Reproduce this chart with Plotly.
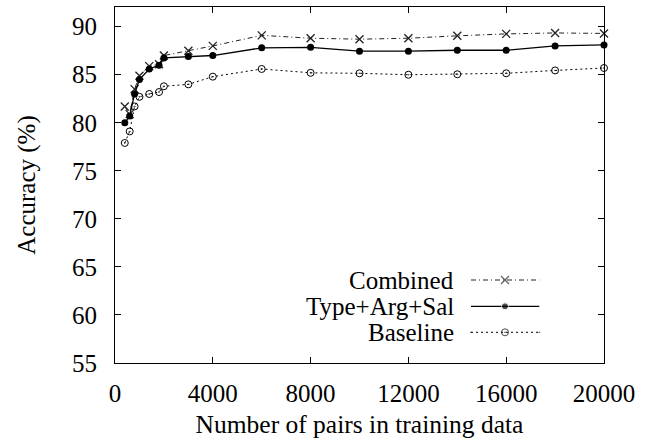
import plotly.graph_objects as go

# ---- data ----
pairs = [400, 600, 800, 1000, 1400, 1800, 2000, 3000, 4000, 6000, 8000,
         10000, 12000, 14000, 16000, 18000, 20000]
combined = [81.7, 80.9, 83.5, 84.9, 85.9, 86.1, 87.0, 87.5, 88.0, 89.1, 88.8,
            88.7, 88.8, 89.05, 89.25, 89.35, 89.3]
type_arg_sal = [80.0, 80.7, 83.0, 84.5, 85.6, 86.0, 86.75, 86.9, 87.0, 87.8, 87.85,
                87.45, 87.45, 87.55, 87.55, 88.0, 88.1]
baseline = [77.9, 79.1, 81.7, 82.7, 83.0, 83.2, 83.8, 84.0, 84.8, 85.6, 85.2,
            85.15, 85.0, 85.05, 85.15, 85.45, 85.7]

series_names = ["Combined", "Type+Arg+Sal", "Baseline"]
x_ticks = [0, 4000, 8000, 12000, 16000, 20000]
y_ticks = [55, 60, 65, 70, 75, 80, 85, 90]

FONT = "Liberation Serif"
FS = 25

W, H = 645, 446
L, R, T, B = 115, 41, 7, 83
pw, ph = W - L - R, H - T - B

def px_x(p):
    return (p - L) / pw

def px_y(p):
    return (H - B - p) / ph

styles = [
    dict(line=dict(color="#222", width=1, dash="5px,3px,1px,3px"),
         marker=dict(symbol="x-thin-open", size=8, line=dict(color="#222", width=1.3))),
    dict(line=dict(color="black", width=1.3, dash="solid"),
         marker=dict(symbol="circle", size=7, color="black")),
    dict(line=dict(color="black", width=1, dash="2px,3px"),
         marker=dict(symbol="circle-open-dot", size=7, color="black", line=dict(color="black", width=1))),
]

fig = go.Figure()
for name, vals, st in zip(series_names, [combined, type_arg_sal, baseline], styles):
    fig.add_trace(go.Scatter(x=pairs, y=vals, mode="lines+markers", name=name,
                             line=st["line"], marker=st["marker"], cliponaxis=False,
                             showlegend=False))

# manual legend (text on left, sample on right)
rows = [280, 306.3, 332.3]
for name, st, ry in zip(series_names, styles, rows):
    yy = px_y(ry)
    m = dict(st["marker"])
    m["size"] = [0, m["size"], 0]
    fig.add_trace(go.Scatter(x=[px_x(471), px_x(505), px_x(539.3)], y=[yy, yy, yy],
                             mode="lines+markers", line=st["line"], marker=m,
                             xaxis="x2", yaxis="y2", showlegend=False, hoverinfo="skip",
                             cliponaxis=False))
    fig.add_annotation(x=px_x(456), y=yy, xref="paper", yref="paper", text=name,
                       showarrow=False, xanchor="right", yanchor="middle",
                       font=dict(family=FONT, size=FS, color="black"))

axis_common = dict(showgrid=False, zeroline=False, showline=True, linecolor="black",
                   linewidth=1, mirror="ticks", ticks="inside", ticklen=6,
                   tickcolor="black", tickwidth=1,
                   tickfont=dict(family=FONT, size=FS, color="black"))

fig.update_layout(
    width=W, height=H,
    margin=dict(l=L, r=R, t=T, b=B),
    paper_bgcolor="white", plot_bgcolor="white",
    font=dict(family=FONT, size=FS, color="black"),
    xaxis=dict(range=[0, 20000], tickvals=x_ticks, ticktext=[str(v) for v in x_ticks],
               title=dict(text="Number of pairs in training data", standoff=9,
                          font=dict(family=FONT, size=25.5)),
               ticklabelstandoff=8, **axis_common),
    yaxis=dict(range=[55, 92.05], tickvals=y_ticks, ticktext=[str(v) for v in y_ticks],
               title=dict(text="Accuracy (%)", standoff=29, font=dict(family=FONT, size=FS)),
               ticklabelstandoff=12, **axis_common),
    xaxis2=dict(range=[0, 1], overlaying="x", visible=False, anchor="y2"),
    yaxis2=dict(range=[0, 1], overlaying="y", visible=False, anchor="x2"),
    showlegend=False,
)

fig.write_html("out.html", config={"displayModeBar": False},
               post_script="document.body.style.margin='0';document.body.style.overflow='hidden';")
